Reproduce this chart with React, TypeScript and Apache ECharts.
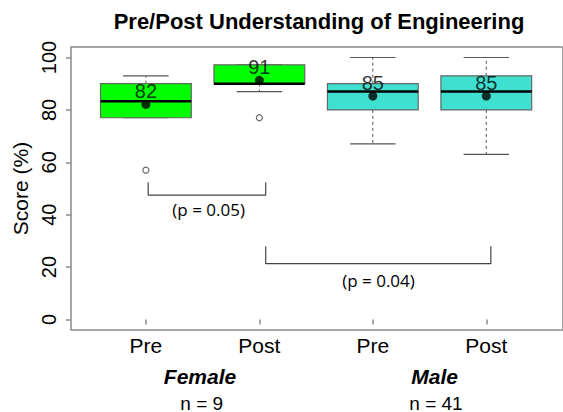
import React, { useEffect, useRef } from "react";
import * as echarts from "echarts";

const categories = ["Pre", "Post", "Pre", "Post"];
const positions = [1, 2, 3, 4];
const lowerWhisker = [77, 87, 67, 63];
const q1 = [77, 90, 80, 80];
const median = [83.3, 90, 87, 87];
const q3 = [90, 97.2, 90, 93];
const upperWhisker = [93, 97.2, 100, 100];
const means = [82.1, 91.3, 85.3, 85.3];
const boxColors = ["#00FF00", "#00FF00", "#40E0D0", "#40E0D0"];
const outliers = [
  [1, 57],
  [2, 77],
];
const yTicks = [0, 20, 40, 60, 80, 100];
const bracket1 = [
  [1.02, 52.4],
  [1.02, 47.5],
  [2.056, 47.5],
  [2.056, 52.4],
];
const bracket2 = [
  [2.056, 28],
  [2.056, 21.3],
  [4.04, 21.3],
  [4.04, 28],
];
const pLabels = [
  { x: 1.553, y: 42.1, text: "(p = 0.05)" },
  { x: 3.05, y: 14.7, text: "(p = 0.04)" },
];
const groups = ["Female", "Male"];
const groupN = ["n = 9", "n = 41"];

const SANS = "Liberation Sans, Arial, sans-serif";

export default function App() {
  const ref = useRef<HTMLDivElement>(null);
  useEffect(() => {
    if (!ref.current) return;
    const chart = echarts.init(ref.current, null, { renderer: "svg" });
    const boxData = positions.map((p, i) => [
      p,
      lowerWhisker[i],
      q1[i],
      median[i],
      q3[i],
      upperWhisker[i],
      i,
    ]);
    const option: any = {
      animation: false,
      grid: {
        left: 71,
        top: 47,
        right: -5,
        bottom: 82,
        show: true,
        borderColor: "#8a8a8a",
        borderWidth: 1.5,
      },
      xAxis: {
        type: "value",
        min: 0.34,
        max: 4.676,
        splitLine: { show: false },
        axisLine: { show: false },
        axisTick: {
          show: true,
          customValues: positions,
          length: 5,
          lineStyle: { color: "#8a8a8a", width: 1.5 },
        },
        axisLabel: {
          customValues: positions,
          formatter: (v: number) => categories[Math.round(v) - 1] ?? "",
          fontSize: 21,
          fontFamily: SANS,
          color: "#000",
          margin: 5,
        },
      },
      yAxis: {
        type: "value",
        min: -4,
        max: 104,
        splitLine: { show: false },
        axisLine: { show: false },
        axisTick: {
          show: true,
          customValues: yTicks,
          length: 5,
          lineStyle: { color: "#8a8a8a", width: 1.5 },
        },
        axisLabel: {
          customValues: yTicks,
          rotate: 90,
          fontSize: 20,
          fontFamily: SANS,
          color: "#000",
          margin: 12,
        },
        name: "Score (%)",
        nameLocation: "middle",
        nameRotate: 90,
        nameGap: 40,
        nameTextStyle: { fontSize: 21, fontFamily: SANS, color: "#000" },
      },
      graphic: [
        {
          type: "text",
          x: 319,
          y: 21,
          style: {
            text: "Pre/Post Understanding of Engineering",
            font: `bold 22px ${SANS}`,
            fill: "#000",
            textAlign: "center",
            textVerticalAlign: "middle",
          },
        },
        {
          type: "text",
          x: 200,
          y: 376,
          style: {
            text: groups[0],
            font: `italic bold 21px ${SANS}`,
            fill: "#000",
            textAlign: "center",
            textVerticalAlign: "middle",
          },
        },
        {
          type: "text",
          x: 434.6,
          y: 376,
          style: {
            text: groups[1],
            font: `italic bold 21px ${SANS}`,
            fill: "#000",
            textAlign: "center",
            textVerticalAlign: "middle",
          },
        },
        {
          type: "text",
          x: 201.7,
          y: 403,
          style: {
            text: groupN[0],
            font: `19px ${SANS}`,
            fill: "#000",
            textAlign: "center",
            textVerticalAlign: "middle",
          },
        },
        {
          type: "text",
          x: 436,
          y: 403,
          style: {
            text: groupN[1],
            font: `19px ${SANS}`,
            fill: "#000",
            textAlign: "center",
            textVerticalAlign: "middle",
          },
        },
      ],
      series: [
        {
          type: "custom",
          data: boxData,
          z: 2,
          renderItem: (params: any, api: any) => {
            const x = api.value(0);
            const lw = api.value(1);
            const b1 = api.value(2);
            const md = api.value(3);
            const b3 = api.value(4);
            const uw = api.value(5);
            const idx = api.value(6);
            const halfBox = 0.4;
            const halfCap = 0.2;
            const c = (xx: number, yy: number) => api.coord([xx, yy]);
            const children: any[] = [];
            const whiskerStyle = {
              stroke: "#555",
              lineWidth: 1,
              lineDash: [3, 3],
            };
            const capStyle = { stroke: "#555", lineWidth: 1.2 };
            if (uw > b3) {
              const a = c(x, b3);
              const b = c(x, uw);
              children.push({
                type: "line",
                shape: { x1: a[0], y1: a[1], x2: b[0], y2: b[1] },
                style: whiskerStyle,
              });
            }
            if (lw < b1) {
              const a = c(x, b1);
              const b = c(x, lw);
              children.push({
                type: "line",
                shape: { x1: a[0], y1: a[1], x2: b[0], y2: b[1] },
                style: whiskerStyle,
              });
            }
            [uw, lw].forEach((v) => {
              const a = c(x - halfCap, v);
              const b = c(x + halfCap, v);
              children.push({
                type: "line",
                shape: { x1: a[0], y1: a[1], x2: b[0], y2: b[1] },
                style: capStyle,
              });
            });
            const tl = c(x - halfBox, b3);
            const br = c(x + halfBox, b1);
            children.push({
              type: "rect",
              shape: {
                x: tl[0],
                y: tl[1],
                width: br[0] - tl[0],
                height: br[1] - tl[1],
              },
              style: { fill: boxColors[idx], stroke: "#666", lineWidth: 1.2 },
            });
            const m1 = c(x - halfBox, md);
            const m2 = c(x + halfBox, md);
            children.push({
              type: "line",
              shape: { x1: m1[0], y1: m1[1], x2: m2[0], y2: m2[1] },
              style: { stroke: "#000", lineWidth: 2.6 },
            });
            return { type: "group", children };
          },
        },
        {
          type: "scatter",
          data: outliers,
          symbol: "circle",
          symbolSize: 6,
          itemStyle: {
            color: "#ffffff",
            borderColor: "#666666",
            borderWidth: 1.2,
            opacity: 1,
          },
          z: 6,
        },
        {
          type: "scatter",
          data: positions.map((p, i) => [p, means[i]]),
          symbol: "circle",
          symbolSize: 9,
          itemStyle: { color: "#000" },
          z: 4,
          label: {
            show: true,
            position: "inside",
            offset: [0, -13],
            formatter: (pp: any) => String(Math.round(pp.value[1])),
            fontSize: 20,
            fontFamily: SANS,
            color: "#000",
          },
        },
        {
          type: "line",
          data: bracket1,
          symbol: "none",
          lineStyle: { color: "#444", width: 1.2 },
          z: 3,
        },
        {
          type: "line",
          data: bracket2,
          symbol: "none",
          lineStyle: { color: "#444", width: 1.2 },
          z: 3,
        },
        {
          type: "custom",
          data: pLabels.map((d) => [d.x, d.y]),
          z: 5,
          renderItem: (params: any, api: any) => {
            const pt = api.coord([api.value(0), api.value(1)]);
            return {
              type: "text",
              x: pt[0],
              y: pt[1],
              style: {
                text: pLabels[params.dataIndex].text,
                font: `17px "Open Sans", sans-serif`,
                fill: "#000",
                textAlign: "center",
                textVerticalAlign: "middle",
              },
            };
          },
        },
      ],
    };
    chart.setOption(option);
    return () => chart.dispose();
  }, []);
  return (
    <div
      ref={ref}
      style={{ position: "absolute", left: 0, top: 0, width: 563, height: 412 }}
    />
  );
}
